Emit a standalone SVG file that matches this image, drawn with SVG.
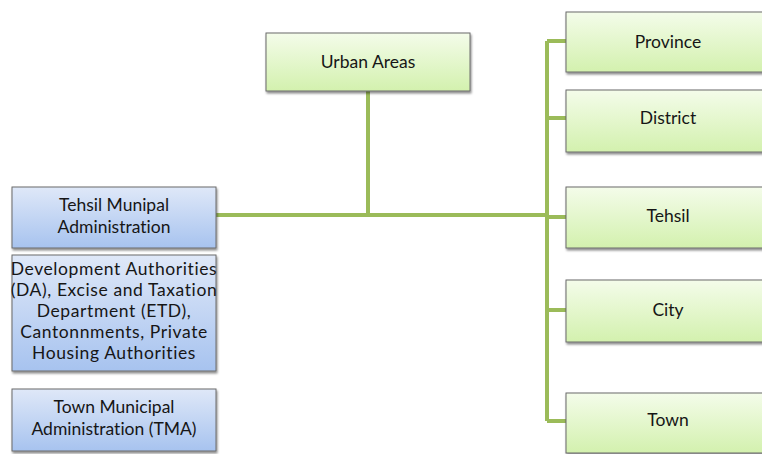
<svg xmlns="http://www.w3.org/2000/svg" width="762" height="454" viewBox="0 0 762 454">
<defs>
<linearGradient id="gg" x1="0" y1="0" x2="0" y2="1"><stop offset="0" stop-color="#F4FCEA"/><stop offset="1" stop-color="#D3F1AE"/></linearGradient>
<linearGradient id="bg" x1="0" y1="0" x2="0" y2="1"><stop offset="0" stop-color="#DFE8F8"/><stop offset="1" stop-color="#A7C3EF"/></linearGradient>
<filter id="sh" x="-5%" y="-5%" width="115%" height="120%"><feDropShadow dx="1" dy="2" stdDeviation="0.8" flood-color="#000" flood-opacity="0.45"/></filter>
</defs>
<style>
.g{fill:url(#gg);stroke:#6b6b6b;stroke-width:1;filter:url(#sh)}
.b{fill:url(#bg);stroke:#6b6b6b;stroke-width:1;filter:url(#sh)}
text{font-family:Lato,"Open Sans","Liberation Sans",sans-serif;font-size:17.5px;fill:#161616;text-anchor:middle;font-variant-ligatures:none}
.d{letter-spacing:0.6px}
.c{fill:none;stroke:#9BBB59;stroke-width:4}
</style>
<rect width="762" height="454" fill="#fff"/>
<g id="connectors">
<path class="c" d="M368,91 V215 M216,215 H547 M547,41 V421 M547,41 H566 M547,118 H566 M547,217 H566 M547,310 H566 M547,421 H566"/>
</g>
<g id="urban"><rect class="g" x="266" y="33" width="204" height="58"/><text x="368" y="68">Urban Areas</text></g>
<g id="tma1"><rect class="b" x="12" y="187" width="204" height="61"/><text x="114" y="211">Tehsil Munipal</text><text x="114" y="233">Administration</text></g>
<g id="da"><rect class="b" x="12" y="255" width="204" height="116"/>
<text class="d" x="114" y="275">Development Authorities</text><text class="d" x="114" y="296">(DA), Excise and Taxation</text><text class="d" x="114" y="317">Department (ETD),</text><text class="d" x="114" y="338">Cantonnments, Private</text><text class="d" x="114" y="359">Housing Authorities</text></g>
<g id="tma2"><rect class="b" x="12" y="389" width="204" height="62"/><text x="114" y="413">Town Municipal</text><text x="114" y="435">Administration (TMA)</text></g>
<g id="province"><rect class="g" x="566" y="12" width="210" height="60"/><text x="668" y="48">Province</text></g>
<g id="district"><rect class="g" x="566" y="90" width="210" height="62"/><text x="668" y="124">District</text></g>
<g id="tehsil"><rect class="g" x="566" y="187" width="210" height="61"/><text x="668" y="222">Tehsil</text></g>
<g id="city"><rect class="g" x="566" y="280" width="210" height="62"/><text x="668" y="316">City</text></g>
<g id="town"><rect class="g" x="566" y="393" width="210" height="60"/><text x="668" y="426">Town</text></g>
</svg>
